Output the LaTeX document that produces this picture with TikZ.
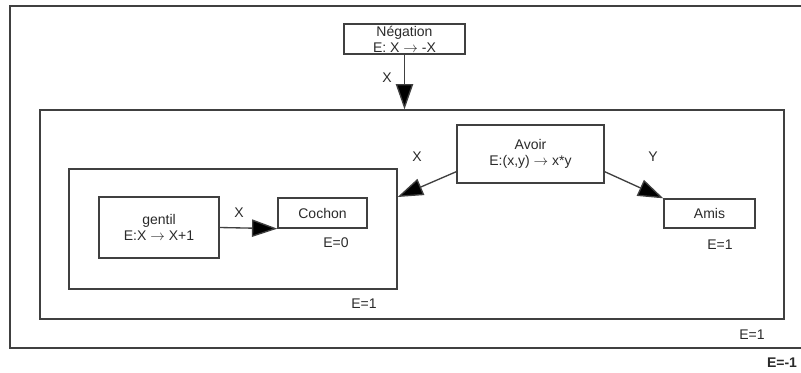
\documentclass[tikz,border=0pt]{standalone}
\usepackage{fontspec}
\setmainfont{Liberation Sans}
\usetikzlibrary{arrows.meta}
\definecolor{ln}{HTML}{404040}
\definecolor{tx}{HTML}{2A2A2A}
\tikzset{
  box/.style={draw=ln, line width=1pt, rectangle, inner sep=0pt, align=center, text=tx, font=\fontsize{10.5}{12}\selectfont},
  frame/.style={draw=ln, line width=1pt, rectangle, inner sep=0pt},
  lbl/.style={text=tx, inner sep=0pt, font=\fontsize{10.5}{12}\selectfont},
  arr/.style={draw=ln, line width=1pt, -{Triangle[length=19pt,width=13pt,fill=black]}},
}
\begin{document}
\begin{tikzpicture}[x=0.75pt,y=-0.75pt]
\useasboundingbox (0,0) rectangle (801,372);
% outer frame (right side beyond the picture)
\draw[ln, line width=1pt] (801,6) -- (10,6) -- (10,348) -- (801,348);
% frames
\node[frame, minimum width=744*0.75pt, minimum height=209*0.75pt] (mid) at (412,214.5) {};
\node[frame, minimum width=328*0.75pt, minimum height=120*0.75pt] (inner) at (233,229) {};
% boxes
\node[box, minimum width=121*0.75pt, minimum height=30*0.75pt] (neg) at (404.5,39) {N\'egation\\E: X \(\rightarrow\) -X};
\node[box, minimum width=147*0.75pt, minimum height=58*0.75pt] (avoir) at (530.5,154) {Avoir\\E:(x,y) \(\rightarrow\) x*y};
\node[box, minimum width=120*0.75pt, minimum height=61*0.75pt] (gentil) at (159,227.5) {gentil\\E:X \(\rightarrow\) X+1};
\node[box, minimum width=89*0.75pt, minimum height=30*0.75pt] (cochon) at (322.5,213) {Cochon};
\node[box, minimum width=91*0.75pt, minimum height=29*0.75pt] (amis) at (709.5,213.5) {Amis};
% connectors
\draw[arr] (neg.south) -- (neg.south |- mid.north);
\draw[arr] ([yshift=9pt]avoir.south west) -- ([yshift=24pt]inner.east);
\draw[arr] ([yshift=9pt]avoir.south east) -- (amis.north west);
\draw[arr] (gentil.east) -- (cochon.south west);
% labels
\node[lbl] (lx1) at (387,78) {X};
\node[lbl] (lx2) at (417,157) {X};
\node[lbl] (ly) at (653,157) {Y};
\node[lbl] (lx3) at (239,213) {X};
\node[lbl] (e0) at (336,243) {E=0};
\node[lbl] (e1a) at (720,245) {E=1};
\node[lbl] (e1b) at (364,304) {E=1};
\node[lbl] (e1c) at (752,335) {E=1};
\node[lbl] (em1) at (782,363) {\textbf{E=-1}};
\end{tikzpicture}
\end{document}
